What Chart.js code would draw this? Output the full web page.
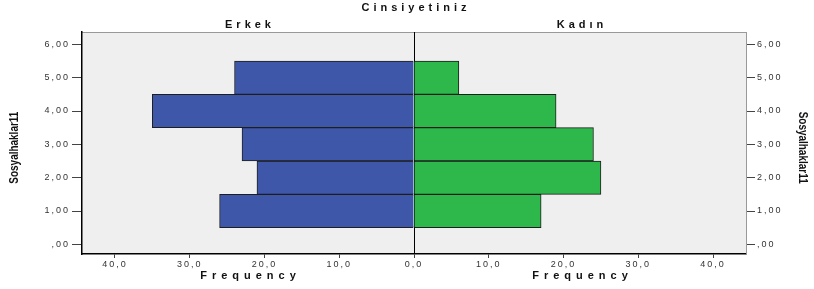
<!doctype html>
<html lang="tr">
    <head>
        <meta charset="UTF-8"/>
        <title>Cinsiyetiniz</title>
        <script src="https://cdn.jsdelivr.net/npm/chart.js@4.4.1/dist/chart.umd.min.js"></script>
        <style>
         * {
             margin: 0;
             padding: 0;
         }
         body {
             background: #fff;
         }
         #wrap {
             width: 814px;
             height: 289px;
         }
        </style>
    </head>
    <body>
        <div id="wrap"><canvas id="chart1"></canvas></div>
        <script>
         // Sosyalhaklar11 kategorileri ve cinsiyete gore frekanslar
         const categories = [1, 2, 3, 4, 5];
         const erkek = [26, 21, 23, 35, 24];
         const kadin = [17, 25, 24, 19, 6];
         const yTicks = [0, 1, 2, 3, 4, 5, 6];
         const xTicks = [-40, -30, -20, -10, 0, 10, 20, 30, 40];

         const plotBg = '#efefef';
         const titleFont = 'bold 11px "Liberation Sans", Arial, sans-serif';
         const yTitleFont = 'bold 13px "Liberation Sans", Arial, sans-serif';

         function fmtY(v) {
             if (v === 0) return ',00';
             return v.toFixed(2).replace('.', ',');
         }
         function fmtX(v) {
             return Math.abs(v).toFixed(1).replace('.', ',');
         }

         function spacedText(ctx, text, x, y, spacing) {
             ctx.save();
             ctx.letterSpacing = spacing + 'px';
             ctx.font = titleFont;
             ctx.fillStyle = '#111';
             ctx.textAlign = 'center';
             ctx.textBaseline = 'middle';
             ctx.fillText(text, x + spacing / 2, y);
             ctx.restore();
         }

         // narrow, rotated axis title (SPSS uses a condensed face)
         function narrowTitle(ctx, text, x, y, angle) {
             ctx.save();
             ctx.letterSpacing = '0px';
             ctx.font = yTitleFont;
             ctx.fillStyle = '#111';
             ctx.textAlign = 'center';
             ctx.textBaseline = 'middle';
             ctx.translate(x, y);
             ctx.rotate(angle);
             const w = ctx.measureText(text).width;
             ctx.scale(72 / w, 1);
             ctx.fillText(text, 0, 0);
             ctx.restore();
         }

         const panelPlugin = {
             id: 'panel',
             beforeDraw(chart) {
                 const ctx = chart.ctx;
                 const a = chart.chartArea;
                 ctx.letterSpacing = '2px';
                 ctx.save();
                 ctx.fillStyle = plotBg;
                 ctx.fillRect(a.left, a.top, a.right - a.left, a.bottom - a.top);
                 ctx.strokeStyle = '#999';
                 ctx.lineWidth = 1;
                 ctx.beginPath();
                 ctx.moveTo(a.left, a.top + 0.5);
                 ctx.lineTo(a.right, a.top + 0.5);
                 ctx.stroke();
                 ctx.restore();
             },
             afterDraw(chart) {
                 const ctx = chart.ctx;
                 const a = chart.chartArea;
                 const zero = chart.scales.x.getPixelForValue(0);
                 const leftMid = (a.left + zero) / 2;
                 const rightMid = (a.right + zero) / 2;
                 const midY = chart.scales.y.getPixelForValue(2.9);
                 spacedText(ctx, 'Cinsiyetiniz', zero, 8, 4);
                 spacedText(ctx, 'Erkek', leftMid, 25, 4);
                 spacedText(ctx, 'Kadın', rightMid, 25, 4);
                 spacedText(ctx, 'Frequency', leftMid, 276, 5);
                 spacedText(ctx, 'Frequency', rightMid, 276, 5);
                 narrowTitle(ctx, 'Sosyalhaklar11', 14, midY, -Math.PI / 2);
                 narrowTitle(ctx, 'Sosyalhaklar11', 803, midY, Math.PI / 2);
             }
         };

         const tickFont = { family: '"Liberation Sans", Arial, sans-serif', size: 9 };

         const ctx1 = document.getElementById('chart1').getContext('2d');
         const pyramid = new Chart(ctx1, {
             type: 'bar',
             data: {
                 datasets: [{
                     label: 'Erkek',
                     data: categories.map((c, i) => ({ y: c, x: -erkek[i] })),
                     backgroundColor: '#3f57a9',
                     borderColor: '#1e1e1e',
                     borderWidth: 1
                 }, {
                     label: 'Kadın',
                     data: categories.map((c, i) => ({ y: c, x: kadin[i] })),
                     backgroundColor: '#2eb84b',
                     borderColor: '#1e1e1e',
                     borderWidth: 1
                 }]
             },
             options: {
                 indexAxis: 'y',
                 responsive: true,
                 maintainAspectRatio: false,
                 animation: false,
                 grouped: false,
                 categoryPercentage: 1,
                 barPercentage: 1,
                 layout: { padding: { top: 32, left: 0, right: 0, bottom: 0 } },
                 plugins: {
                     legend: { display: false },
                     tooltip: { enabled: false }
                 },
                 scales: {
                     x: {
                         type: 'linear',
                         min: -44.4,
                         max: 44.4,
                         offset: false,
                         afterBuildTicks: (s) => { s.ticks = xTicks.map(v => ({ value: v })); },
                         afterFit: (s) => { s.height = 35; },
                         border: { color: '#000', width: 1.5 },
                         grid: {
                             offset: false,
                             color: (c) => (c.tick && c.tick.value === 0 ? '#000' : 'rgba(0,0,0,0)'),
                             tickColor: '#444',
                             tickLength: 4,
                             lineWidth: 1
                         },
                         ticks: {
                             callback: (v) => fmtX(v),
                             color: '#333',
                             font: tickFont,
                             padding: 1,
                             maxRotation: 0,
                             autoSkip: false
                         }
                     },
                     y: {
                         type: 'linear',
                         position: 'left',
                         min: -0.29,
                         max: 6.37,
                         offset: false,
                         afterBuildTicks: (s) => { s.ticks = yTicks.map(v => ({ value: v })); },
                         afterFit: (s) => { s.width = 82; },
                         border: { color: '#000', width: 1.5 },
                         grid: { offset: false, drawOnChartArea: false, tickColor: '#444', tickLength: 10 },
                         ticks: { callback: (v) => fmtY(v), color: '#333', font: tickFont, padding: 2 }
                     },
                     y2: {
                         type: 'linear',
                         position: 'right',
                         min: -0.29,
                         max: 6.37,
                         offset: false,
                         afterBuildTicks: (s) => { s.ticks = yTicks.map(v => ({ value: v })); },
                         afterFit: (s) => { s.width = 68; },
                         border: { color: '#999', width: 1 },
                         grid: { offset: false, drawOnChartArea: false, tickColor: '#444', tickLength: 9 },
                         ticks: { callback: (v) => fmtY(v), color: '#333', font: tickFont, padding: 2 }
                     }
                 }
             },
             plugins: [panelPlugin]
         });
        </script>
    </body>
</html>
